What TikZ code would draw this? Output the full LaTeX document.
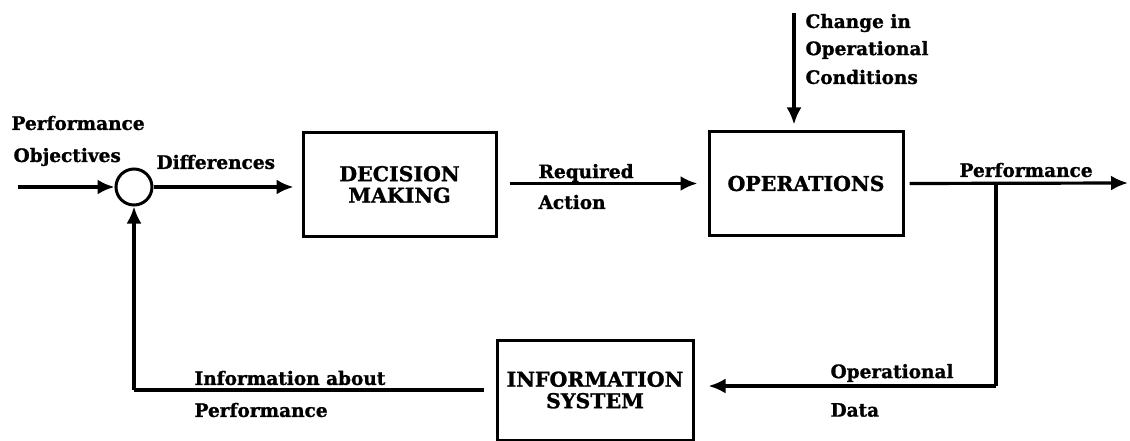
\documentclass[tikz,border=0pt]{standalone}
\usepackage{fontspec}
\setmainfont{DejaVu Serif}[BoldFeatures={FakeBold=1.2}]
\usetikzlibrary{arrows.meta}
\begin{document}
\begin{tikzpicture}[x=1pt,y=-1pt,
  line width=3.2pt,
  every node/.style={font=\bfseries\fontsize{18.5}{20}\selectfont},
  blockbox/.style={draw,line width=3pt,align=center,inner sep=0pt,
    font=\bfseries\fontsize{20.5}{21.5}\selectfont},
  lbl/.style={anchor=west,inner sep=0pt},
  flow/.style={-{Latex[length=17pt,width=15pt]}},
]
\fill[white] (0,0) rectangle (1130,441);
\useasboundingbox (0,0) rectangle (1130,441);

% blocks
\node[draw,circle,minimum size=36pt,inner sep=0pt,line width=3pt] (sum) at (134,187) {};
\node[blockbox,minimum width=193pt,minimum height=103pt] (dec) at (399.5,184.5) {DECISION\\MAKING};
\node[blockbox,minimum width=194pt,minimum height=103pt] (ops) at (806,183.5) {OPERATIONS};
\node[blockbox,minimum width=196pt,minimum height=100pt] (info) at (595,390) {INFORMATION\\SYSTEM};

% free ends
\coordinate (in) at (18,187);
\coordinate (chg) at (794,13);
\coordinate (out) at (1128,183);
\coordinate (tap) at (996,183);
\coordinate (tapdown) at (996,386);
\coordinate (fbcorner) at (134,390);

% connectors
\draw[flow] (in) -- (sum.west);
\draw[flow,shorten >=8pt] (sum.east) -- (dec.west |- sum.east);
\draw[flow,shorten <=12pt,shorten >=10pt] (dec.east |- ops.west) -- (ops.west);
\draw[flow,shorten >=6pt] (chg) -- (chg |- ops.north);
\draw[flow,shorten <=5pt] (ops.east) -- (out);
\draw (tap) -- (tapdown);
\draw[flow,shorten >=14pt] (tapdown) -- (info.east |- tapdown);
\draw[shorten <=12pt] (info.west) -- (fbcorner);
\draw[flow] (fbcorner) -- (sum.south);

% labels
\node[lbl] (perfobj1) at (10,123) {Performance};
\node[lbl] (perfobj2) at (12,157) {Objectives};
\node[lbl] (diff) at (155,162) {Differences};
\node[lbl] (req1) at (537,173) {Required};
\node[lbl] (req2) at (537,202) {Action};
\node[lbl] (chg1) at (804,23) {Change in};
\node[lbl] (chg2) at (804,50) {Operational};
\node[lbl] (chg3) at (804,77) {Conditions};
\node[lbl] (perfout) at (958,170) {Performance};
\node[lbl] (opd1) at (829,373) {Operational};
\node[lbl] (opd2) at (829,410) {Data};
\node[lbl] (infa1) at (193,378) {Information about};
\node[lbl] (infa2) at (193,410) {Performance};
\end{tikzpicture}
\end{document}
